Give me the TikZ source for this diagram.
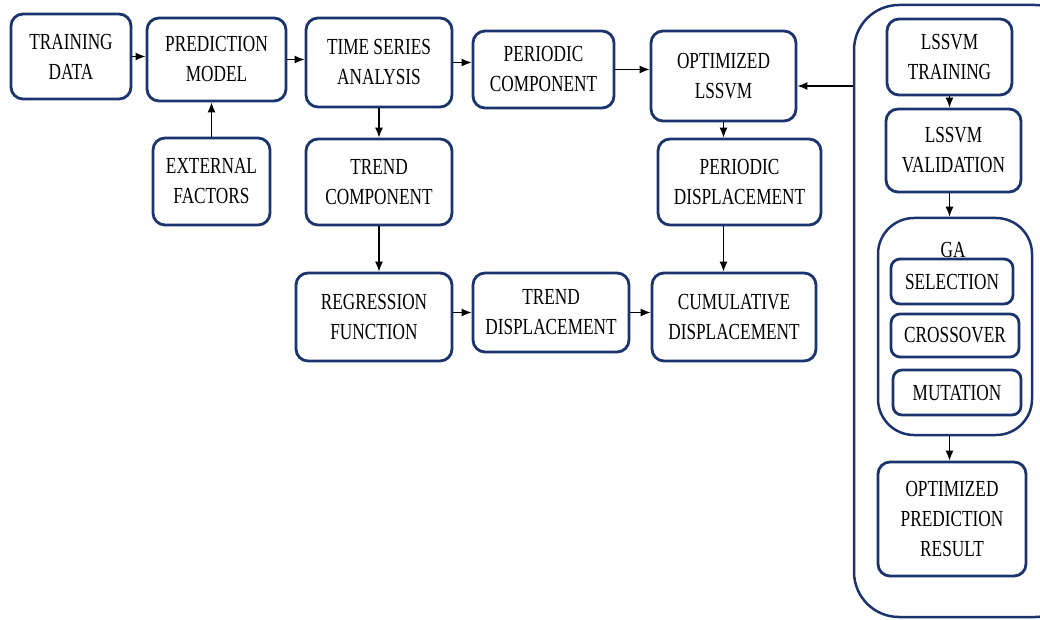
\documentclass[tikz,border=0pt]{standalone}
\usepackage{fontspec}
\setmainfont[FakeStretch=0.75]{Liberation Serif}
\usetikzlibrary{arrows.meta}
\definecolor{navy}{RGB}{28,52,110}
\begin{document}
\begin{tikzpicture}[x=1pt, y=-1pt,
    box/.style={draw=navy, line width=2.8pt, rounded corners=12pt, align=center,
        inner sep=0pt, font=\fontsize{23}{30}\selectfont},
    grp/.style={draw=navy, line width=2.5pt, rounded corners=#1},
    arr/.style={-{Latex[length=10pt,width=8pt]}, line width=1.3pt}]
            \useasboundingbox (0,0) rectangle (1040,620);
            \clip (0,0) rectangle (1040,620);
            % main flow
            \node[box, minimum width=120, minimum height=85] (td) at (71,56.5) {TRAINING\\DATA};
            \node[box, minimum width=139, minimum height=83] (pm) at (216.5,59.5) {PREDICTION\\MODEL};
            \node[box, minimum width=146, minimum height=89] (tsa) at (379,62.5) {TIME SERIES\\ANALYSIS};
            \node[box, minimum width=141, minimum height=77] (pc) at (543.5,69.5) {PERIODIC\\COMPONENT};
            \node[box, minimum width=145, minimum height=90] (ol) at (723.5,76) {OPTIMIZED\\LSSVM};
            \node[box, minimum width=117, minimum height=87] (ef) at (211.5,181.5) {EXTERNAL\\FACTORS};
            \node[box, minimum width=146, minimum height=86] (tc) at (379,182) {TREND\\COMPONENT};
            \node[box, minimum width=163, minimum height=86] (pd) at (739.5,182) {PERIODIC\\DISPLACEMENT};
            \node[box, minimum width=156, minimum height=88] (rf) at (374,317) {REGRESSION\\FUNCTION};
            \node[box, minimum width=156, minimum height=79] (tdp) at (551,312.5) {TREND\\DISPLACEMENT};
            \node[box, minimum width=164, minimum height=88] (cd) at (734,317) {CUMULATIVE\\DISPLACEMENT};
            % optimization block
            \node[grp=45pt, minimum width=226, minimum height=612] (opt) at (967,311) {};
            \node[box, minimum width=125, minimum height=76] (lt) at (949.5,57) {LSSVM\\TRAINING};
            \node[box, minimum width=135, minimum height=83] (lv) at (953.5,150.5) {LSSVM\\VALIDATION};
            \node[grp=36pt, minimum width=154, minimum height=217] (ga) at (955,326.5) {};
            \node[font=\fontsize{23}{30}\selectfont, inner sep=0pt, anchor=base] (galbl) at (953,257) {GA};
            \node[box, minimum width=122, minimum height=45, rounded corners=9pt] (sel) at (952,281.5) {SELECTION};
            \node[box, minimum width=128, minimum height=43, rounded corners=9pt] (cro) at (955,335.5) {CROSSOVER};
            \node[box, minimum width=128, minimum height=45, rounded corners=9pt] (mut) at (957,392.5) {MUTATION};
            \node[box, minimum width=148, minimum height=114] (res) at (952,519) {OPTIMIZED\\PREDICTION\\RESULT};
            % connectors
            \draw[arr] (td.east) -- (td.east -| pm.west);
            \draw[arr] (pm.east) -- (pm.east -| tsa.west);
            \draw[arr] (tsa.east) -- (tsa.east -| pc.west);
            \draw[arr] (pc.east) -- (pc.east -| ol.west);
            \draw[arr] (ef.north) -- (ef.north |- pm.south);
            \draw[arr] (tsa.south) -- (tsa.south |- tc.north);
            \draw[arr] (tc.south) -- (tc.south |- rf.north);
            \draw[arr] (ol.south) -- (ol.south |- pd.north);
            \draw[arr] (pd.south -| ol.south) -- (cd.north -| ol.south);
            \draw[arr] (tdp.west -| rf.east) -- (tdp.west);
            \draw[arr] (tdp.east) -- (tdp.east -| cd.west);
            \coordinate (olin) at ([yshift=-10pt]ol.east);
            \draw[arr] (olin -| opt.west) -- (olin);
            \draw[arr] (lt.south) -- (lt.south |- lv.north);
            \draw[arr] (lv.south -| lt.south) -- (ga.north -| lt.south);
            \draw[arr] (ga.south -| lt.south) -- (res.north -| lt.south);
        \end{tikzpicture}
\end{document}
